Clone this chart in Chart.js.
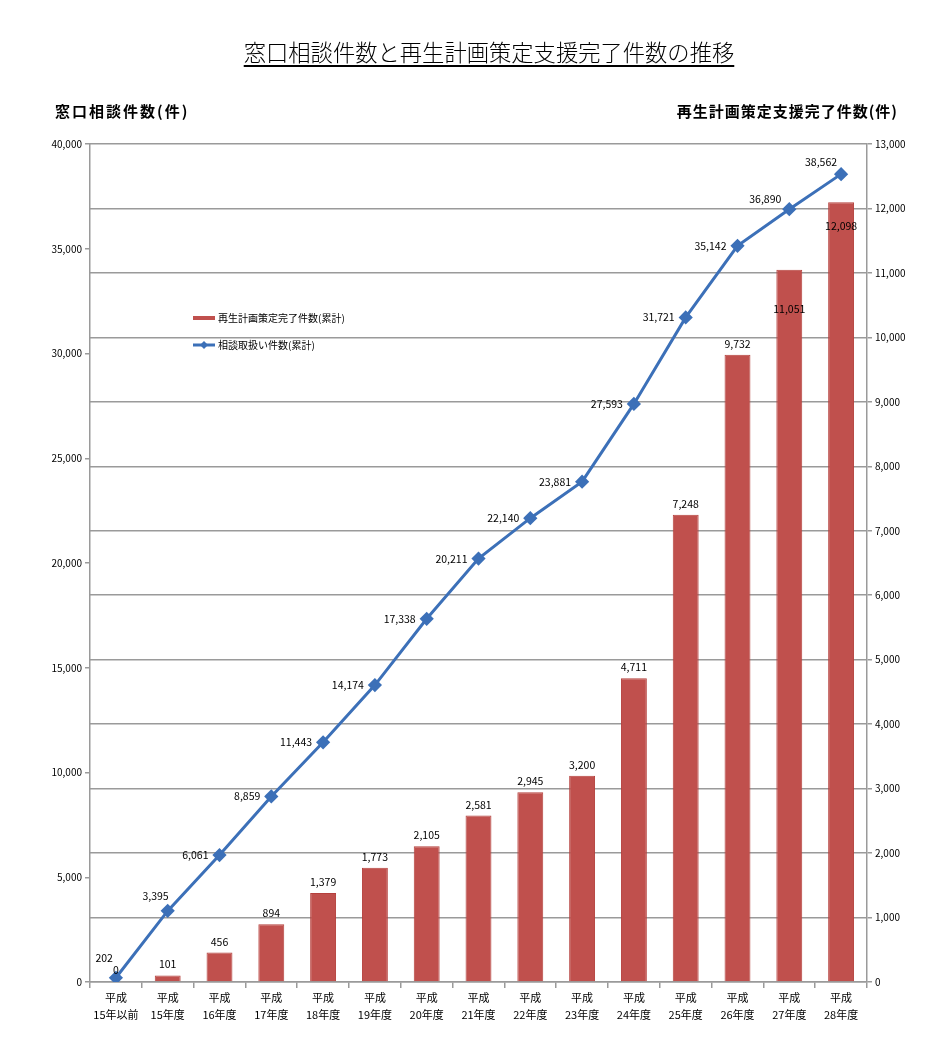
<!DOCTYPE html>
<html lang="ja">
<head>
<meta charset="utf-8">
<script src="https://cdn.jsdelivr.net/npm/chart.js@4/dist/chart.umd.min.js"></script>
<style>
  body { margin: 0; background: #fff; }
  #wrap { position: relative; width: 950px; height: 1050px; font-family: "Noto Sans CJK JP", sans-serif; }
  #title { position: absolute; left: 0; width: 978px; top: 35px; text-align: center; font-size: 22.3px; font-weight: 300; text-decoration: underline; text-underline-offset: 4px; color: #000; }
  .axt { position: absolute; top: 100px; font-size: 15px; font-weight: 700; color: #000; }
  canvas { position: absolute; left: 0; top: 0; }
</style>
</head>
<body>
<div id="wrap">
  <canvas id="myChart" width="950" height="1050"></canvas>
  <div id="title">窓口相談件数と再生計画策定支援完了件数の推移</div>
  <div class="axt" style="left:55px; letter-spacing:2px">窓口相談件数(件)</div>
  <div class="axt" style="right:52px; letter-spacing:1px">再生計画策定支援完了件数(件)</div>
</div>
<script>
// 데이터
const categories = [
  ["平成", "15年以前"], ["平成", "15年度"], ["平成", "16年度"], ["平成", "17年度"], ["平成", "18年度"],
  ["平成", "19年度"], ["平成", "20年度"], ["平成", "21年度"], ["平成", "22年度"], ["平成", "23年度"],
  ["平成", "24年度"], ["平成", "25年度"], ["平成", "26年度"], ["平成", "27年度"], ["平成", "28年度"]
];
const planDone = [0, 101, 456, 894, 1379, 1773, 2105, 2581, 2945, 3200, 4711, 7248, 9732, 11051, 12098];
const consults = [202, 3395, 6061, 8859, 11443, 14174, 17338, 20211, 22140, 23881, 27593, 31721, 35142, 36890, 38562];
const leftTicks = [0, 5000, 10000, 15000, 20000, 25000, 30000, 35000, 40000];
const rightMax = 13000;

// 라벨 위치 (오프셋)
const barLabelDy = [-12, -11, -11, -11, -11, -11, -11, -11, -11, -11, -11, -11, -11, 39, 24];
const lineLabelOff = [[-3, -20], [1, -15], [-11, 0], [-11, 0], [-11, 0], [-11, 0], [-11, 0], [-11, 0],
  [-11, 0], [-11, 0], [-11, 0], [-11, 0], [-11, 0], [-8, -10], [-4, -12]];

const RED = "#C0504D";
const BLUE = "#3C70B8";
const GRID = "#9a9a9a";

Chart.defaults.font.family = '"Noto Sans CJK JP", sans-serif';
Chart.defaults.color = "#000";

const fmt = v => v.toLocaleString("en-US");

// 데이터 라벨 + 범례 그리기
const labelPlugin = {
  id: "labels",
  afterDatasetsDraw(chart) {
    const c = chart.ctx;
    c.save();
    c.font = '10.5px "Noto Sans CJK JP", sans-serif';
    c.fillStyle = "#000";
    c.textBaseline = "middle";

    const bars = chart.getDatasetMeta(1).data;
    c.textAlign = "center";
    bars.forEach((b, i) => c.fillText(fmt(planDone[i]), b.x, b.y + barLabelDy[i]));

    const pts = chart.getDatasetMeta(0).data;
    c.textAlign = "right";
    pts.forEach((p, i) => c.fillText(fmt(consults[i]), p.x + lineLabelOff[i][0], p.y + lineLabelOff[i][1]));

    // 범례
    c.textAlign = "left";
    c.fillStyle = RED;
    c.fillRect(193, 316, 22, 4);
    c.strokeStyle = BLUE;
    c.lineWidth = 3;
    c.beginPath(); c.moveTo(193, 345); c.lineTo(215, 345); c.stroke();
    c.fillStyle = BLUE;
    c.beginPath(); c.moveTo(204, 341); c.lineTo(208, 345); c.lineTo(204, 349); c.lineTo(200, 345); c.closePath(); c.fill();
    c.fillStyle = "#000";
    c.font = '10px "Noto Sans CJK JP", sans-serif';
    c.fillText("再生計画策定完了件数(累計)", 218, 318);
    c.fillText("相談取扱い件数(累計)", 218, 345);
    c.restore();
  }
};

let ctx = document.getElementById("myChart");
let config = {
  data: {
    labels: categories,
    datasets: [
      {
        type: "line",
        label: "相談取扱い件数(累計)",
        data: consults,
        yAxisID: "y",
        borderColor: BLUE,
        backgroundColor: BLUE,
        borderWidth: 3,
        pointStyle: "rectRot",
        pointRadius: 5,
        tension: 0,
        order: 0
      },
      {
        type: "bar",
        label: "再生計画策定完了件数(累計)",
        data: planDone,
        yAxisID: "y1",
        backgroundColor: RED,
        borderColor: "#B5403D",
        borderWidth: 1,
        barPercentage: 0.5,
        categoryPercentage: 1,
        order: 1
      }
    ]
  },
  options: {
    responsive: false,
    animation: false,
    layout: { padding: { top: 144, bottom: 18, left: 0, right: 0 } },
    plugins: { legend: { display: false }, tooltip: { enabled: false } },
    scales: {
      x: {
        grid: { offset: true, drawOnChartArea: false, tickLength: 6, color: GRID, lineWidth: 1.5 },
        border: { color: GRID, width: 1.5 },
        ticks: { font: { size: 11, lineHeight: 1.5 }, maxRotation: 0, autoSkip: false, padding: 2 },
        afterFit(s) { s.height = 50; }
      },
      y: {
        position: "left",
        min: 0,
        max: 40000,
        afterBuildTicks(s) { s.ticks = leftTicks.map(v => ({ value: v })); },
        grid: { drawOnChartArea: false, tickLength: 5, color: GRID, lineWidth: 1.5 },
        border: { color: GRID, width: 1.5 },
        ticks: { font: { size: 10 }, padding: 3, callback: v => fmt(v) },
        afterFit(s) { s.width = 90; }
      },
      y1: {
        position: "right",
        min: 0,
        max: rightMax,
        ticks: { stepSize: 1000, font: { size: 10 }, padding: 3, callback: v => fmt(v) },
        grid: { tickLength: 5, color: GRID, lineWidth: 1.5 },
        border: { color: GRID, width: 1.5 },
        afterFit(s) { s.width = 83; }
      }
    }
  },
  plugins: [labelPlugin]
};

let myChart = new Chart(ctx, config);
</script>
</body>
</html>
